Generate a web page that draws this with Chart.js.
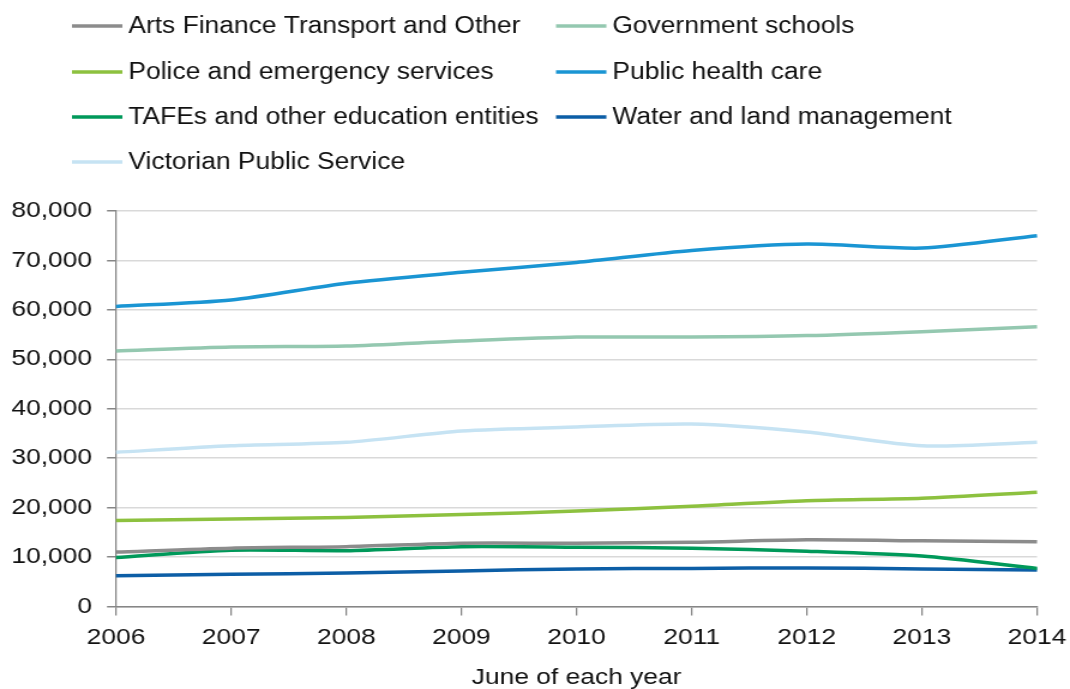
<!DOCTYPE html>
<html>
<head>
<meta charset="utf-8">
<script src="https://cdn.jsdelivr.net/npm/chart.js@4"></script>
<style>
  html, body { margin: 0; padding: 0; background: #ffffff; overflow: hidden; }
  #wrap { width: 898px; height: 689px; transform: scaleX(1.19955); transform-origin: 0 0; }
</style>
</head>
<body>
<div id="wrap"><canvas id="chart" width="898" height="689"></canvas></div>
<script>
// Years (June of each year)
const years = ['2006', '2007', '2008', '2009', '2010', '2011', '2012', '2013', '2014'];

// Employees by sector
const artsFinanceTransport = [11000, 11800, 12100, 12800, 12800, 13000, 13500, 13300, 13100];
const governmentSchools    = [51700, 52500, 52700, 53700, 54500, 54500, 54800, 55600, 56600];
const policeEmergency      = [17400, 17700, 18000, 18600, 19300, 20300, 21400, 21900, 23100];
const publicHealthCare     = [60700, 62000, 65400, 67600, 69600, 72000, 73300, 72500, 75000];
const tafesEducation       = [9900, 11400, 11300, 12100, 12000, 11800, 11200, 10200, 7700];
const waterLand            = [6200, 6500, 6800, 7200, 7600, 7700, 7800, 7600, 7400];
const victorianPublicSvc   = [31200, 32500, 33200, 35500, 36300, 36900, 35300, 32500, 33200];

const seriesNames = [
  'Arts Finance Transport and Other',
  'Government schools',
  'Police and emergency services',
  'Public health care',
  'TAFEs and other education entities',
  'Water and land management',
  'Victorian Public Service'
];
const seriesColors = ['#8c8c8c', '#94c8b0', '#8dc13f', '#1a95d3', '#00995a', '#0c5ea6', '#c6e3f3'];
const seriesValues = [artsFinanceTransport, governmentSchools, policeEmergency, publicHealthCare,
                      tafesEducation, waterLand, victorianPublicSvc];

const FONT = '"Liberation Sans", Arial, sans-serif';
const TEXT = '#111111';

// Two-column legend drawn above the plot
const gridLegend = {
  id: 'gridLegend',
  afterDraw(chart) {
    const ctx = chart.ctx;
    const cols = [60, 463.5];
    const rows = [26, 72, 117, 162];
    const squeeze = 22 / 23.5;
    ctx.save();
    ctx.font = '23.5px ' + FONT;
    ctx.textBaseline = 'middle';
    ctx.textAlign = 'left';
    chart.data.datasets.forEach((ds, i) => {
      const x = cols[i % 2];
      const y = rows[Math.floor(i / 2)];
      ctx.strokeStyle = ds.borderColor;
      ctx.lineWidth = 3.5;
      ctx.lineCap = 'butt';
      ctx.beginPath();
      ctx.moveTo(x, y);
      ctx.lineTo(x + 42, y);
      ctx.stroke();
      ctx.save();
      ctx.translate(x + 47, y + 1);
      ctx.scale(squeeze, 1);
      ctx.fillStyle = TEXT;
      ctx.fillText(ds.label, 0, 0);
      ctx.restore();
    });
    ctx.restore();
  }
};

const datasets = seriesNames.map((name, i) => ({
  label: name,
  data: seriesValues[i],
  borderColor: seriesColors[i],
  backgroundColor: seriesColors[i],
  borderWidth: 3.5,
  pointRadius: 0,
  pointHoverRadius: 0,
  tension: 0.25,
  fill: false
}));

new Chart(document.getElementById('chart'), {
  type: 'line',
  data: { labels: years, datasets: datasets },
  plugins: [gridLegend],
  options: {
    responsive: false,
    animation: false,
    devicePixelRatio: 1,
    layout: { padding: { top: 211, right: 0, left: 0, bottom: 0 } },
    plugins: {
      legend: { display: false },
      tooltip: { enabled: false },
      title: { display: false }
    },
    scales: {
      x: {
        offset: false,
        afterFit(scale) { scale.height = 82.5; },
        grid: { drawOnChartArea: false, color: '#868686', tickColor: '#868686', tickLength: 9, lineWidth: 1.25 },
        border: { color: '#868686', width: 1.5 },
        ticks: { font: { family: FONT, size: 22 }, color: TEXT, padding: 9, maxRotation: 0 },
        title: {
          display: true,
          text: 'June of each year',
          font: { family: FONT, size: 22, lineHeight: 1 },
          color: TEXT,
          padding: { top: 0, bottom: 0 }
        }
      },
      y: {
        min: 0,
        max: 80000,
        afterFit(scale) { scale.width = 96.7; },
        grid: { color: '#d9d9d9', lineWidth: 1.5, tickColor: '#868686', tickLength: 7.5 },
        border: { color: '#868686', width: 1.25 },
        ticks: {
          stepSize: 10000,
          font: { family: FONT, size: 22 },
          color: TEXT,
          padding: 12.5,
          callback: (v) => v.toLocaleString('en-US')
        }
      }
    }
  }
});
</script>
</body>
</html>
